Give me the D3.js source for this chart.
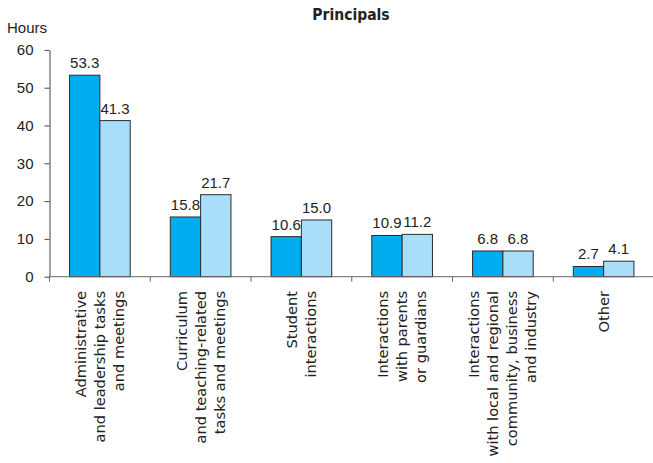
<!DOCTYPE html>
<html><head><meta charset="utf-8">
<script src="https://cdn.jsdelivr.net/npm/d3@7"></script>
<style>body{margin:0;background:#fff}svg{display:block}</style>
</head><body>
<svg id="c" width="653" height="463"></svg>
<script>
const categories = [
  ["Administrative","and leadership tasks","and meetings"],
  ["Curriculum","and teaching-related","tasks and meetings"],
  ["Student","interactions"],
  ["Interactions","with parents","or guardians"],
  ["Interactions","with local and regional","community, business","and industry"],
  ["Other"]
];
const seriesA = [53.3, 15.8, 10.6, 10.9, 6.8, 2.7];
const seriesB = [41.3, 21.7, 15.0, 11.2, 6.8, 4.1];
const yTicks = [0,10,20,30,40,50,60];
const title = "Principals";
const yLabel = "Hours";

const svg = d3.select("#c");
const x0 = 49.5, x1 = 654, yTop = 49.9, yBot = 276.7;
const x = d3.scaleBand().domain(d3.range(categories.length)).range([x0, x1]).paddingInner(0).paddingOuter(0);
const y = d3.scaleLinear().domain([0,60]).range([yBot, yTop]);
const barW = x.bandwidth() * 0.301;
const colA = "#00AEEF", colB = "#A9DEF8";
const numFont = "Liberation Sans, Arial, sans-serif";

// bars
const g = svg.append("g");
[seriesA, seriesB].forEach((s, si) => {
  g.selectAll(null).data(s).enter().append("rect")
    .attr("x", (d,i) => x(i) + x.bandwidth()/2 - barW + si*barW)
    .attr("y", d => y(d))
    .attr("width", barW)
    .attr("height", d => y(0) - y(d))
    .attr("fill", si ? colB : colA)
    .attr("stroke", "#2b2b2b").attr("stroke-width", 1);
  g.selectAll(null).data(s).enter().append("text")
    .attr("x", (d,i) => x(i) + x.bandwidth()/2 - barW/2 + si*barW)
    .attr("y", d => y(d) - 7)
    .attr("text-anchor", "middle")
    .attr("font-family", numFont)
    .attr("font-size", 15).attr("fill", "#222")
    .text(d => d.toFixed(1));
});

// y axis
const ya = svg.append("g").attr("transform", `translate(${x0},0)`)
  .call(d3.axisLeft(y).tickValues(yTicks).tickSize(5).tickSizeOuter(0).tickPadding(11));
ya.select(".domain").attr("stroke", "#444");
ya.selectAll(".tick line").attr("stroke", "#444");
ya.selectAll("text").attr("font-family", numFont).attr("font-size", 15).attr("fill", "#222");

// x axis
const xa = svg.append("g").attr("transform", `translate(0,${yBot})`);
xa.append("line").attr("x1", x0).attr("x2", x1).attr("y1", 0).attr("y2", 0).attr("stroke", "#666");
xa.selectAll(null).data(d3.range(categories.length)).enter().append("line")
  .attr("x1", i => x(i)).attr("x2", i => x(i)).attr("y1", 0).attr("y2", 5).attr("stroke", "#666");

// category labels
const lh = 19;
categories.forEach((lines, i) => {
  const cx = x(i) + x.bandwidth()/2;
  const n = lines.length;
  lines.forEach((t, k) => {
    const off = (k - (n-1)/2) * lh;
    svg.append("text")
      .attr("transform", `translate(${cx + off + 5},291) rotate(-90)`)
      .attr("text-anchor", "end")
      .attr("font-family", "DejaVu Sans, sans-serif")
      .attr("font-size", 14.6).attr("fill", "#222")
      .text(t);
  });
});

svg.append("text").attr("x", 351).attr("y", 20).attr("text-anchor", "middle")
  .attr("font-family", "DejaVu Sans Condensed, DejaVu Sans, sans-serif").attr("font-weight", "bold")
  .attr("font-size", 15.5).attr("fill", "#222").text(title);
svg.append("text").attr("x", 7).attr("y", 33)
  .attr("font-family", numFont).attr("font-size", 15).attr("fill", "#222").text(yLabel);
</script>
</body></html>
